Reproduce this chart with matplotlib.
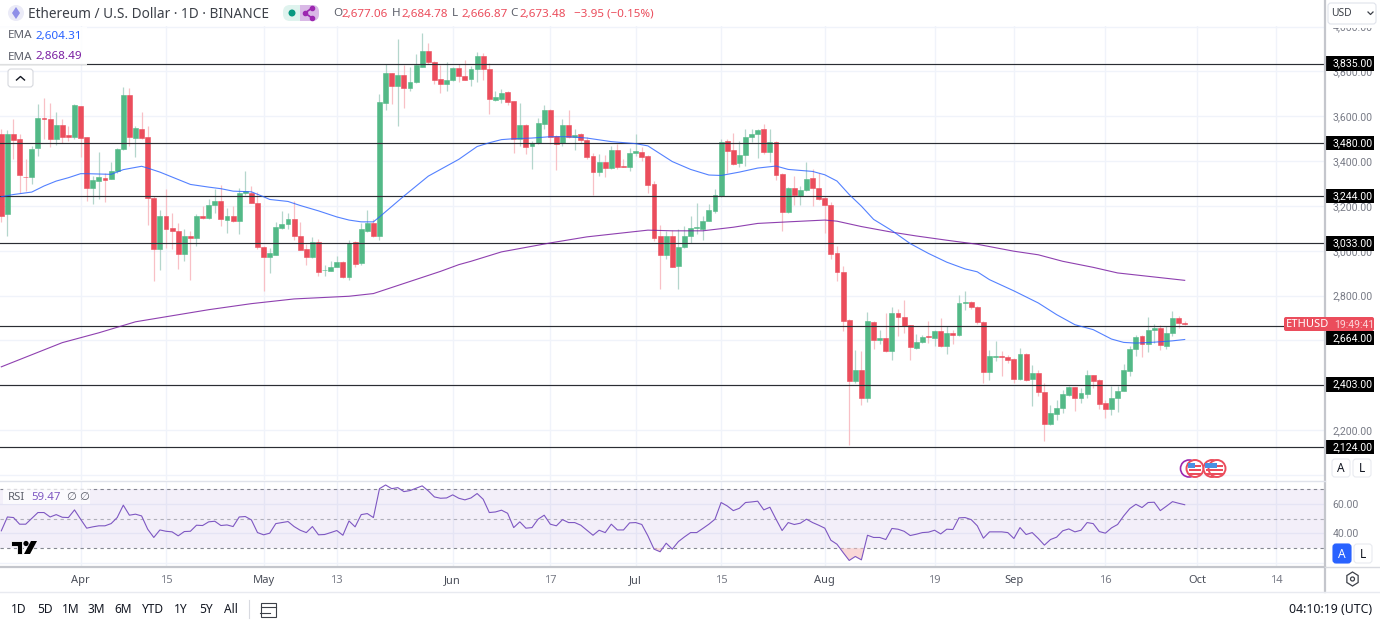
#!/usr/bin/env python3
"""ETH/USD daily candles with two EMAs, support/resistance levels and RSI."""

import matplotlib
matplotlib.use('Agg')
import matplotlib.pyplot as plt
from matplotlib.patches import Circle, FancyBboxPatch, Polygon, Rectangle
import numpy as np

GREEN = '#53b987'
RED = '#eb4d5c'
BLUE = '#2962ff'
PURPLE = '#7b1fa2'
RSI_COLOR = '#7e57c2'
GRID = '#f0f3fa'
TEXT = '#131722'
MUTED = '#787b86'
NUM_FONT = ['Roboto', 'DejaVu Sans']

W, H = 1380, 622

plt.rcParams['font.family'] = ['Noto Sans', 'DejaVu Sans']

opens = [
    3523, 3162, 3520, 3497, 3330, 3329, 3457, 3593, 3590, 3497,
    3560, 3515, 3506, 3645, 3506, 3278, 3311, 3326, 3318, 3354,
    3453, 3696, 3502, 3545, 3506, 3236, 3010, 3157, 3101, 3087,
    2985, 3065, 3056, 3154, 3147, 3202, 3223, 3137, 3157, 3131,
    3256, 3259, 3214, 3017, 2970, 2983, 3101, 3120, 3140, 3065,
    3010, 2973, 3040, 2913, 2911, 2929, 2952, 2883, 3040, 2944,
    3087, 3126, 3068, 3661, 3792, 3734, 3784, 3728, 3751, 3821,
    3892, 3843, 3766, 3746, 3761, 3815, 3779, 3766, 3810, 3867,
    3810, 3673, 3679, 3708, 3667, 3497, 3560, 3468, 3479, 3564,
    3626, 3512, 3482, 3560, 3509, 3523, 3496, 3421, 3350, 3396,
    3368, 3451, 3377, 3374, 3435, 3441, 3421, 3296, 3065, 2983,
    3068, 2934, 3017, 3065, 3101, 3099, 3135, 3178, 3245, 3488,
    3448, 3390, 3426, 3509, 3520, 3542, 3442, 3487, 3341, 3175,
    3278, 3245, 3271, 3323, 3281, 3237, 3204, 2991, 2906, 2692,
    2420, 2467, 2342, 2682, 2600, 2612, 2554, 2724, 2704, 2669,
    2567, 2594, 2619, 2612, 2640, 2573, 2634, 2622, 2765, 2773,
    2749, 2682, 2458, 2528, 2531, 2527, 2515, 2429, 2540, 2426,
    2455, 2370, 2227, 2273, 2297, 2358, 2390, 2342, 2361, 2445,
    2424, 2320, 2294, 2342, 2375, 2464, 2561, 2618, 2582, 2648,
    2657, 2576, 2633, 2698, 2677,
]
highs = [
    3545, 3539, 3587, 3520, 3408, 3468, 3654, 3681, 3661, 3617,
    3590, 3557, 3657, 3646, 3508, 3333, 3441, 3348, 3396, 3460,
    3730, 3725, 3557, 3617, 3557, 3244, 3181, 3277, 3169, 3125,
    3098, 3087, 3162, 3199, 3229, 3274, 3292, 3192, 3199, 3281,
    3354, 3289, 3262, 3020, 3013, 3128, 3177, 3169, 3222, 3128,
    3028, 3062, 3053, 2938, 2953, 2976, 2955, 3047, 3043, 3125,
    3181, 3140, 3699, 3833, 3795, 3947, 3828, 3818, 3880, 3971,
    3927, 3845, 3828, 3843, 3818, 3833, 3852, 3825, 3888, 3882,
    3840, 3712, 3721, 3714, 3669, 3658, 3564, 3490, 3594, 3651,
    3632, 3515, 3590, 3627, 3545, 3527, 3509, 3435, 3430, 3426,
    3468, 3475, 3408, 3460, 3520, 3465, 3429, 3311, 3113, 3087,
    3092, 3098, 3110, 3154, 3214, 3157, 3207, 3274, 3497, 3500,
    3524, 3490, 3545, 3545, 3545, 3564, 3542, 3490, 3345, 3286,
    3332, 3289, 3398, 3366, 3348, 3244, 3217, 3020, 2931, 2695,
    2558, 2551, 2727, 2685, 2648, 2722, 2749, 2740, 2782, 2670,
    2630, 2625, 2685, 2648, 2700, 2663, 2648, 2804, 2822, 2775,
    2752, 2685, 2558, 2598, 2551, 2536, 2521, 2566, 2543, 2491,
    2466, 2409, 2312, 2335, 2379, 2397, 2394, 2387, 2466, 2446,
    2427, 2335, 2397, 2397, 2496, 2573, 2625, 2625, 2704, 2675,
    2670, 2663, 2733, 2707, 2685,
]
lows = [
    3130, 3065, 3411, 3259, 3266, 3300, 3423, 3497, 3463, 3470,
    3479, 3490, 3500, 3420, 3222, 3207, 3229, 3217, 3318, 3348,
    3450, 3468, 3418, 3497, 3117, 2867, 2916, 3013, 3008, 2920,
    2953, 2871, 3023, 3140, 3140, 3169, 3110, 3080, 3129, 3075,
    3251, 3211, 3010, 2819, 2901, 2980, 3095, 3095, 3047, 3002,
    2938, 2968, 2889, 2889, 2908, 2926, 2879, 2868, 2928, 2938,
    3084, 3062, 3047, 3628, 3654, 3557, 3636, 3713, 3748, 3818,
    3833, 3743, 3706, 3713, 3758, 3751, 3761, 3736, 3754, 3763,
    3609, 3669, 3658, 3649, 3435, 3468, 3430, 3366, 3475, 3542,
    3475, 3362, 3468, 3505, 3450, 3479, 3411, 3247, 3333, 3329,
    3365, 3363, 3372, 3354, 3423, 3400, 3256, 3044, 2830, 2961,
    2926, 2831, 3013, 3035, 3073, 3050, 3132, 3169, 3242, 3348,
    3381, 3375, 3378, 3485, 3415, 3430, 3396, 3314, 3090, 3169,
    3202, 3202, 3266, 3199, 3226, 3080, 2961, 2864, 2643, 2133,
    2409, 2312, 2323, 2561, 2585, 2548, 2513, 2618, 2633, 2513,
    2561, 2588, 2588, 2573, 2570, 2539, 2585, 2619, 2737, 2740,
    2674, 2409, 2424, 2506, 2439, 2499, 2409, 2425, 2421, 2308,
    2354, 2153, 2224, 2245, 2278, 2352, 2284, 2320, 2342, 2387,
    2293, 2253, 2267, 2280, 2372, 2442, 2531, 2528, 2546, 2588,
    2558, 2563, 2621, 2655, 2667,
]
closes = [
    3154, 3520, 3493, 3336, 3327, 3456, 3593, 3588, 3497, 3560,
    3509, 3506, 3649, 3502, 3278, 3314, 3329, 3317, 3354, 3456,
    3696, 3506, 3546, 3502, 3236, 3010, 3157, 3099, 3086, 2985,
    3068, 3056, 3157, 3147, 3204, 3220, 3140, 3157, 3131, 3256,
    3265, 3214, 3016, 2970, 2992, 3107, 3120, 3140, 3064, 3005,
    2973, 3040, 2907, 2916, 2929, 2952, 2883, 3035, 2943, 3095,
    3123, 3068, 3663, 3792, 3734, 3785, 3725, 3754, 3830, 3892,
    3843, 3764, 3745, 3760, 3815, 3779, 3763, 3810, 3867, 3810,
    3676, 3684, 3706, 3663, 3497, 3560, 3465, 3479, 3569, 3626,
    3509, 3478, 3560, 3509, 3518, 3494, 3420, 3351, 3396, 3368,
    3451, 3375, 3374, 3438, 3444, 3417, 3292, 3059, 2983, 3068,
    2929, 3019, 3068, 3102, 3104, 3135, 3180, 3248, 3487, 3444,
    3386, 3429, 3509, 3523, 3538, 3442, 3487, 3336, 3175, 3278,
    3247, 3272, 3318, 3278, 3229, 3202, 2986, 2903, 2688, 2420,
    2467, 2342, 2686, 2600, 2612, 2554, 2722, 2703, 2663, 2569,
    2595, 2616, 2616, 2640, 2573, 2634, 2622, 2767, 2773, 2748,
    2680, 2458, 2531, 2531, 2527, 2513, 2426, 2540, 2424, 2455,
    2369, 2227, 2276, 2300, 2361, 2390, 2344, 2364, 2445, 2420,
    2317, 2294, 2345, 2376, 2467, 2563, 2615, 2584, 2648, 2657,
    2581, 2634, 2698, 2676, 2673,
]

# EMA lines, read at the bars where they bend
ema_fast_bars = [
    0, 2, 5, 7, 9, 11, 13, 14, 18, 20, 23, 24, 26, 29, 31, 34, 36, 38, 41, 43,
    44, 47, 49, 52, 55, 57, 59, 61, 62, 66, 70, 75, 78, 80, 82, 84, 87, 90, 93,
    96, 100, 104, 106, 110, 113, 116, 118, 121, 124, 127, 129, 133, 135, 137,
    139, 141, 143, 146, 149, 152, 155, 158, 160, 162, 166, 170, 173, 176, 179,
    182, 184, 186, 189, 192, 194,
]
ema_fast = [
    3241, 3251, 3262, 3289, 3311, 3326, 3344, 3344, 3341, 3362, 3377, 3369,
    3351, 3318, 3296, 3284, 3277, 3266, 3263, 3241, 3229, 3220, 3202, 3178,
    3151, 3137, 3129, 3129, 3151, 3244, 3333, 3408, 3465, 3482, 3496, 3500,
    3503, 3509, 3509, 3503, 3487, 3478, 3468, 3398, 3363, 3338, 3336, 3351,
    3369, 3378, 3363, 3354, 3339, 3311, 3251, 3199, 3140, 3090, 3032, 2988,
    2949, 2919, 2906, 2871, 2821, 2767, 2715, 2670, 2648, 2606, 2591, 2588,
    2592, 2598, 2604,
]
ema_slow_bars = [
    0, 5, 10, 16, 22, 28, 34, 41, 48, 57, 61, 72, 75, 77, 82, 90, 96, 101, 106,
    110, 115, 120, 124, 129, 135, 137, 141, 146, 150, 155, 160, 166, 170, 174,
    179, 183, 188, 192, 194,
]
ema_slow = [
    2482, 2536, 2590, 2634, 2683, 2710, 2737, 2764, 2785, 2797, 2809, 2908,
    2938, 2953, 2995, 3035, 3062, 3077, 3092, 3089, 3089, 3105, 3122, 3129,
    3137, 3132, 3108, 3083, 3066, 3047, 3029, 2998, 2982, 2953, 2926, 2901,
    2886, 2874, 2868,
]

rsi = [
    41.8, 51.2, 50.8, 46.3, 46.3, 50.3, 54.2, 54.2, 51.2, 52.8,
    51.0, 50.8, 56.0, 49.7, 43.6, 44.5, 45.2, 45.2, 46.7, 50.8,
    59.2, 52.4, 53.1, 51.9, 42.9, 37.3, 42.4, 41.5, 41.1, 38.4,
    41.3, 41.5, 45.6, 45.4, 47.9, 48.3, 45.4, 45.8, 44.7, 51.2,
    51.5, 49.2, 40.6, 39.1, 40.2, 46.7, 47.4, 48.1, 44.7, 42.2,
    40.6, 44.7, 39.1, 39.3, 40.6, 42.0, 38.8, 48.5, 44.5, 52.8,
    53.5, 50.8, 70.4, 72.9, 70.4, 71.1, 68.4, 69.1, 70.7, 72.3,
    68.9, 64.8, 63.9, 64.1, 66.2, 63.9, 62.8, 64.1, 67.1, 63.2,
    54.2, 54.6, 55.8, 53.7, 44.0, 47.9, 43.6, 44.0, 49.7, 52.4,
    46.3, 45.2, 49.4, 47.4, 47.4, 45.6, 42.2, 38.8, 42.2, 40.6,
    46.3, 42.4, 42.4, 47.2, 47.4, 46.1, 38.4, 29.4, 27.6, 33.4,
    29.4, 34.5, 37.7, 40.6, 40.6, 43.4, 46.3, 49.7, 61.0, 58.7,
    55.5, 57.1, 61.0, 61.4, 61.9, 56.0, 57.8, 49.7, 42.0, 47.4,
    46.1, 47.0, 49.7, 47.4, 45.6, 43.6, 35.4, 32.7, 27.1, 21.7,
    24.4, 22.1, 38.8, 37.3, 37.3, 35.9, 43.4, 42.9, 41.5, 38.6,
    39.5, 40.6, 40.9, 42.2, 39.7, 42.9, 42.7, 50.6, 50.8, 49.4,
    45.2, 36.8, 41.1, 41.1, 41.1, 40.6, 36.6, 44.0, 39.3, 40.6,
    36.6, 32.1, 35.9, 37.5, 41.8, 43.1, 41.1, 42.2, 47.4, 46.7,
    41.3, 40.2, 43.8, 46.1, 51.9, 56.9, 59.8, 57.6, 61.0, 61.2,
    55.5, 58.5, 61.6, 60.5, 59.5,
]

levels = [3835, 3480, 3244, 3033, 2664, 2403, 2124]
price_ticks = [2000, 2200, 2400, 2600, 2800, 3000, 3200, 3400, 3600, 3800, 4000]
hidden_price_labels = [2000, 2400, 2600]  # the scale drops these next to a level tag
rsi_ticks = [20, 40, 60]
rsi_bands = [70, 50, 30]
date_bars = [13, 27, 43, 55, 74, 90, 104, 118, 135, 153, 166, 181, 196, 209]
date_labels = ['Apr', '15', 'May', '13', 'Jun', '17', 'Jul', '15', 'Aug', '19',
               'Sep', '16', 'Oct', '14']
range_labels = ['1D', '5D', '1M', '3M', '6M', 'YTD', '1Y', '5Y', 'All']
range_pos = [19, 45, 71, 96, 123, 153, 181, 206, 231]


def px_axes(fig, left, top, right, bottom):
    return fig.add_axes([left / W, 1 - bottom / H, (right - left) / W, (bottom - top) / H])


def draw_candles(ax):
    bars = np.arange(len(opens))
    o, h, l, c = map(np.array, (opens, highs, lows, closes))
    up = c >= o
    ax.vlines(bars[up], l[up], h[up], color='#b4d6cc', linewidth=0.9, zorder=2)
    ax.vlines(bars[~up], l[~up], h[~up], color='#f8c0c6', linewidth=0.9, zorder=2)
    colors = [GREEN if u else RED for u in up]
    ax.bar(bars, np.abs(c - o), bottom=np.minimum(o, c), width=0.8, color=colors,
           edgecolor=colors, linewidth=0.4, zorder=3)


def draw_main(ax):
    ax.set_xlim(-0.213, 217)
    ax.set_ylim(1977, 4003)
    ax.set_xticks(date_bars)
    ax.set_yticks(price_ticks)
    ax.set_yticklabels(['' if p in hidden_price_labels else f'{p:,.2f}' for p in price_ticks],
                       fontsize=7.6, color=MUTED, family=NUM_FONT)
    ax.yaxis.tick_right()
    ax.tick_params(length=0, labelbottom=False, pad=5.6)
    ax.grid(True, color=GRID, linewidth=1.0)
    ax.set_axisbelow(True)
    for spine in ax.spines.values():
        spine.set_visible(False)

    for lvl in levels:
        ax.axhline(lvl, color='#2b2d33', linewidth=0.85, zorder=4)
    draw_candles(ax)
    ax.plot(ema_slow_bars, ema_slow, color=PURPLE, linewidth=0.8, alpha=0.85, zorder=5)
    ax.plot(ema_fast_bars, ema_fast, color=BLUE, linewidth=0.8, alpha=0.8, zorder=5)

    trans = ax.get_yaxis_transform()
    for lvl in levels:
        # the 2,664 tag is pushed down by the ticker tag sitting on the same spot
        y = lvl - 54 if lvl == 2664 else lvl
        ax.add_patch(Rectangle((1.0008, y - 32), 0.0362, 64, transform=trans, fc='black',
                               ec='none', clip_on=False, zorder=7))
        ax.text(1.0058, y, f'{lvl:,.2f}', transform=trans, ha='left', va='center',
                fontsize=7.6, color='white', family=NUM_FONT, clip_on=False, zorder=8)


def draw_rsi(ax):
    bars = np.arange(len(rsi))
    values = np.array(rsi)
    ax.set_xlim(-0.213, 217)
    ax.set_ylim(17.6, 75.6)
    ax.axhspan(rsi_bands[2], rsi_bands[0], color=RSI_COLOR, alpha=0.09, linewidth=0, zorder=1)
    ax.set_xticks(date_bars)
    ax.set_xticklabels(date_labels, fontsize=8)
    for tick, name in zip(ax.get_xticklabels(), date_labels):
        tick.set_color('#4a4e59' if name.isalpha() else MUTED)
        if name.isalpha():
            tick.set_fontweight('medium')
    ax.set_yticks(rsi_ticks)
    ax.set_yticklabels(['', '40.00', '60.00'], fontsize=7.6, color=MUTED, family=NUM_FONT)
    ax.yaxis.tick_right()
    ax.tick_params(length=0, pad=5.6)
    ax.tick_params(axis='x', pad=6)
    ax.grid(True, color=GRID, linewidth=1.0)
    ax.set_axisbelow(True)
    for spine in ax.spines.values():
        spine.set_visible(False)
    for band, alpha in zip(rsi_bands, (0.9, 0.55, 0.9)):
        ax.axhline(band, color=MUTED, linewidth=0.8, linestyle=(0, (3, 3)), alpha=alpha, zorder=2)
    ax.fill_between(bars, values, 30, where=values < 30, interpolate=True,
                    color='#f7c6c6', alpha=0.7, linewidth=0, zorder=2)
    ax.plot(bars, values, color=RSI_COLOR, linewidth=0.8, zorder=3)


def round_box(ax, x, y, w, h, fc='white', ec='#e0e3eb', r=3, lw=0.8, z=6):
    ax.add_patch(FancyBboxPatch((x + r, y + r), w - 2 * r, h - 2 * r,
                                boxstyle=f'round,pad={r},rounding_size={r}',
                                fc=fc, ec=ec, lw=lw, zorder=z))


def draw_chrome(ax):
    ax.set_xlim(0, W)
    ax.set_ylim(H, 0)
    ax.axis('off')

    # pane borders
    ax.plot([1325, 1325], [0, 592], color='#c4c6cc', linewidth=1.6, zorder=1)
    ax.plot([0, 1325], [481, 481], color='#e0e3eb', linewidth=1.0, zorder=1)
    ax.plot([0, 1325], [566.5, 566.5], color='#c4c6cc', linewidth=1.6, zorder=1)
    ax.plot([0, W], [592, 592], color='#e8eaf0', linewidth=1.0, zorder=1)
    ax.plot([1325, W], [566.5, 566.5], color='#d8dae0', linewidth=1.0, zorder=1)

    # title row
    ax.add_patch(Circle((16, 13), 8, fc='#ebebf7', ec='none', zorder=6))
    ax.add_patch(Polygon([(16, 7), (20, 13), (16, 19), (12, 13)], fc='#8f8fe8', ec='none', zorder=7))
    ax.text(28, 14.5, 'Ethereum / U.S. Dollar · 1D · BINANCE', fontsize=9.8, color='#3c4048',
            va='center', zorder=7)
    round_box(ax, 283, 5, 36, 16, fc='#dff3ee', ec='none', r=7)
    ax.add_patch(Rectangle((300, 5), 12, 16, fc='#d9b8e6', ec='none', zorder=6))
    round_box(ax, 302, 5, 17, 16, fc='#d9b8e6', ec='none', r=7)
    ax.add_patch(Circle((292, 13), 3.5, fc='#089981', ec='none', zorder=7))
    ax.plot([312, 305, 312], [8, 13, 18], color='#9c27b0', linewidth=1.2, zorder=7)
    ax.scatter([312, 305, 312], [8, 13, 18], s=9, color='#9c27b0', zorder=7)

    for x, label, value in [(333, 'O', '2,677.06'), (392, 'H', '2,684.78'),
                            (452, 'L', '2,666.87'), (510, 'C', '2,673.48')]:
        ax.text(x, 14, label, fontsize=8.4, color='#5d606b', va='center', zorder=7)
        ax.text(x + 9, 14, value, fontsize=8.4, color=RED, va='center', zorder=7)
    ax.text(574, 14, '−3.95 (−0.15%)', fontsize=8.4, color=RED, va='center', zorder=7)

    # indicator legend
    ax.add_patch(Rectangle((0, 27), 87, 38, fc='white', ec='none', alpha=0.85, zorder=6))
    ax.text(8, 36, 'EMA', fontsize=8.4, color='#5d606b', va='center', zorder=7)
    ax.text(36, 36, '2,604.31', fontsize=8.4, color=BLUE, va='center', zorder=7)
    ax.text(8, 57, 'EMA', fontsize=8.4, color='#5d606b', va='center', zorder=7)
    ax.text(36, 57, '2,868.49', fontsize=8.4, color=PURPLE, va='center', zorder=7)
    round_box(ax, 8, 69, 25, 18, ec='#d6d8de')
    ax.plot([16.5, 20.5, 24.5], [80, 76.5, 80], color=TEXT, linewidth=1.0, zorder=7)

    ax.add_patch(Rectangle((3, 489), 87, 15, fc='white', ec='none', alpha=0.7, zorder=6))
    ax.text(8, 497, 'RSI', fontsize=8.2, color='#5d606b', va='center', zorder=7)
    ax.text(31, 497, '59.47', fontsize=8.2, color=RSI_COLOR, va='center', zorder=7)
    ax.text(66, 497, '∅', fontsize=8.2, color='#5d606b', va='center', zorder=7)
    ax.text(79, 497, '∅', fontsize=8.2, color='#5d606b', va='center', zorder=7)

    # logo
    ax.add_patch(Polygon([(11, 541), (22, 541), (22, 554), (17, 554), (17, 546), (11, 546)],
                         fc='black', ec='white', lw=0.6, zorder=7))
    ax.add_patch(Circle((26, 543.5), 2.6, fc='black', ec='none', zorder=7))
    ax.add_patch(Polygon([(31, 541), (37, 541), (30, 554), (24, 554)], fc='black', ec='none', zorder=7))

    # event markers
    ax.add_patch(Circle((1189, 468.5), 8.5, fc='white', ec='#9c27b0', lw=1.2, zorder=6))
    for cx in (1195, 1212, 1217):
        ax.add_patch(Circle((cx, 468.5), 8.5, fc='white', ec=RED, lw=1.4, zorder=6))
        ax.add_patch(Rectangle((cx - 6, 465), 12, 2, fc=RED, ec='none', zorder=7))
        ax.add_patch(Rectangle((cx - 6, 469), 12, 2, fc=RED, ec='none', zorder=7))
        ax.add_patch(Rectangle((cx - 6, 473), 12, 1.5, fc=RED, ec='none', zorder=7))
        ax.add_patch(Rectangle((cx - 7, 463), 7, 5, fc='#4a90e2', ec='none', zorder=7))

    # ticker tag
    ax.add_patch(FancyBboxPatch((1285, 318), 88, 12, boxstyle='round,pad=1,rounding_size=2',
                                fc=RED, ec='none', zorder=7))
    ax.text(1286, 324.5, 'ETHUSD', fontsize=8, color='white', va='center', zorder=8)
    ax.text(1334, 324.5, '19:49:41', fontsize=7.6, color='#fbd5d9', va='center',
            family=NUM_FONT, zorder=8)

    # scale controls: the symbol box covers the top of the 4,000 label
    ax.add_patch(Rectangle((1327, 0), 53, 27.5, fc='white', ec='none', zorder=5))
    round_box(ax, 1328, 3, 48, 21, ec='#e0e3eb', r=3)
    ax.text(1331, 13.5, 'USD', fontsize=7.4, color='#3c4048', va='center', zorder=7)
    ax.plot([1368, 1370.5, 1373], [12, 14.5, 12], color='#3c4048', linewidth=0.9, zorder=7)
    round_box(ax, 1332, 459, 18, 18, ec='#e8eaf0')
    round_box(ax, 1353, 459, 18, 18, ec='#e8eaf0')
    ax.text(1341, 468.5, 'A', fontsize=8.6, color=TEXT, ha='center', va='center', zorder=7)
    ax.text(1362, 468.5, 'L', fontsize=8.6, color=TEXT, ha='center', va='center', zorder=7)
    round_box(ax, 1333, 544, 18, 19, fc=BLUE, ec=BLUE)
    round_box(ax, 1354, 544, 18, 19, ec='#e8eaf0')
    ax.text(1342, 554, 'A', fontsize=8.6, color='white', ha='center', va='center', zorder=7)
    ax.text(1363, 554, 'L', fontsize=8.6, color=TEXT, ha='center', va='center', zorder=7)
    hex_x = 1352.5 + 6.5 * np.sin(np.arange(6) * np.pi / 3)
    hex_y = 579 + 7 * np.cos(np.arange(6) * np.pi / 3)
    ax.add_patch(Polygon(np.column_stack([hex_x, hex_y]), fc='none', ec='#3c4048', lw=0.9, zorder=7))
    ax.add_patch(Circle((1352.5, 579), 2, fc='none', ec='#3c4048', lw=0.9, zorder=7))

    # bottom bar
    for name, pos in zip(range_labels, range_pos):
        ax.text(pos, 609.5, name, fontsize=8.6, color=TEXT, ha='center', va='center', zorder=7)
    ax.plot([249, 249], [600, 618], color='#d8dae0', linewidth=0.8, zorder=7)
    ax.add_patch(Rectangle((261, 603), 15, 14, fc='none', ec='#3c4048', lw=0.8, zorder=7))
    ax.plot([261, 276], [606.5, 606.5], color='#3c4048', linewidth=0.8, zorder=7)
    ax.plot([260, 270], [612.5, 612.5], color='#3c4048', linewidth=0.8, zorder=7)
    ax.text(1372, 609.5, '04:10:19 (UTC)', fontsize=8.9, color=TEXT, ha='right', va='center', zorder=7)


def main():
    fig = plt.figure(figsize=(W / 100, H / 100), dpi=100, facecolor='white')
    main_ax = px_axes(fig, 0, 26, 1325, 480)
    rsi_ax = px_axes(fig, 0, 481, 1325, 566.5)
    overlay = px_axes(fig, 0, 0, W, H)
    overlay.patch.set_alpha(0)
    draw_main(main_ax)
    draw_rsi(rsi_ax)
    draw_chrome(overlay)
    fig.savefig('out.png', dpi=100)
    plt.close(fig)


if __name__ == "__main__":
    main()
